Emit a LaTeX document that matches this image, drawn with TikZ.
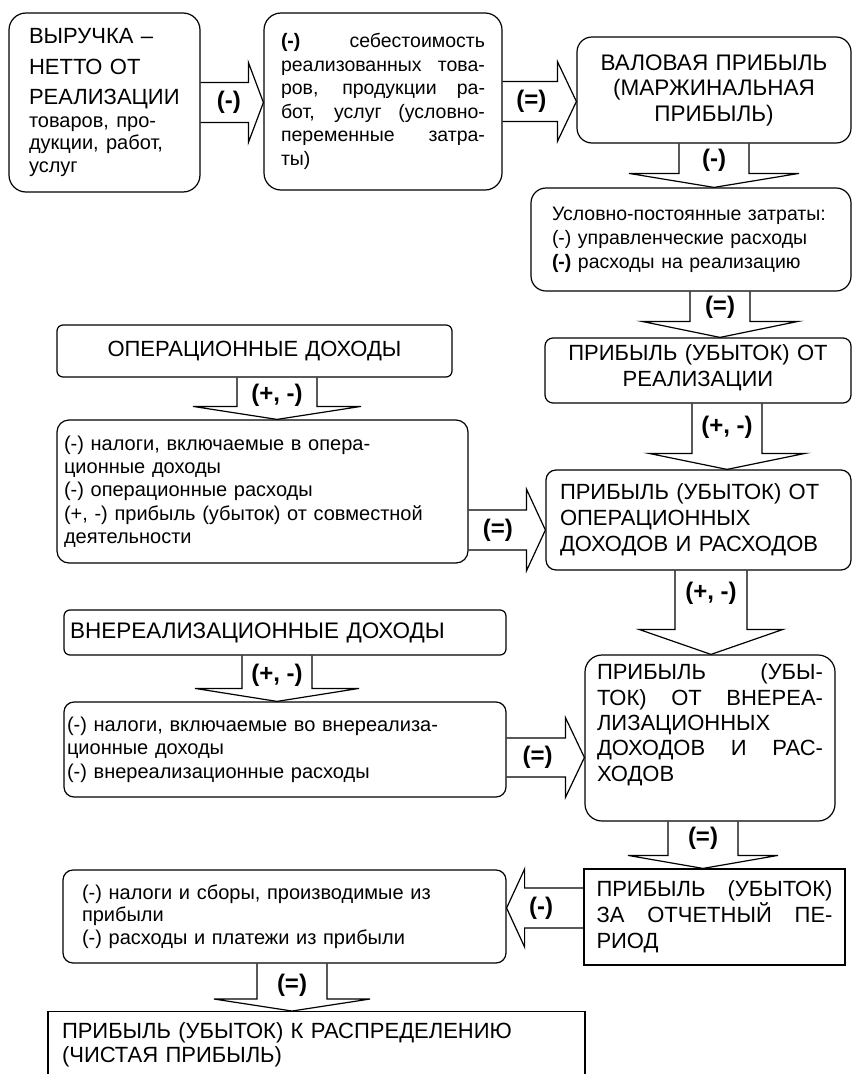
\documentclass[tikz,border=0pt]{standalone}
\usepackage{fontspec}
\setmainfont{Liberation Sans}
\usetikzlibrary{calc}

\newcommand{\fs}[2]{\fontsize{#1}{#2}\selectfont}
\newcommand{\jl}[2]{\makebox[#1][s]{\spaceskip=0pt\xspaceskip=0pt #2}}
\newcommand{\dn}[1]{\rule[-#1]{0pt}{#1}}

\tikzset{
  arrshaft/.store in=\arrshaft, arrhead/.store in=\arrhead, arrlen/.store in=\arrlen,
  arrshaft=20pt, arrhead=40pt, arrlen=16pt,
  blockarrow/.style={draw, line width=1.2pt, to path={
      ($(\tikztotarget)!\arrlen!(\tikztostart)$) coordinate (ah)
      ($(\tikztostart)!\arrshaft!90:(\tikztotarget)$)
      -- ($(ah)!\arrshaft!90:(\tikztotarget)$)
      -- ($(ah)!\arrhead!90:(\tikztotarget)$)
      -- (\tikztotarget)
      -- ($(ah)!\arrhead!-90:(\tikztotarget)$)
      -- ($(ah)!\arrshaft!-90:(\tikztotarget)$)
      -- ($(\tikztostart)!\arrshaft!-90:(\tikztotarget)$)}},
  barrow/.style args={#1/#2/#3}{blockarrow, arrshaft=#1, arrhead=#2, arrlen=#3},
  bx/.style={draw, line width=1.2pt, inner sep=0pt, align=left},
  lbl/.style={font=\fs{24}{26}\bfseries, inner sep=0pt}
}

\begin{document}
\begin{tikzpicture}[x=1pt, y=-1pt]
  \useasboundingbox (0,0) rectangle (852,1074);
  \clip (0,0) rectangle (852,1074);

  % Верхний ряд
  \node[bx, rounded corners=17pt, minimum width=191pt, minimum height=179pt, text width=151pt, font=\fs{22}{30.5}] (vyr) at (104.5,102.5)
    {ВЫРУЧКА –\\НЕТТО ОТ\\РЕАЛИЗАЦИИ\par{\fs{20}{22.5}товаров, про-\\дукции, работ,\\услуг\par}};
  \node[bx, rounded corners=17pt, minimum width=238pt, minimum height=177pt, text width=204pt, font=\fs{19.5}{23.5}] (seb) at (383,101.5)
    {\jl{204pt}{\textbf{(-)} себестоимость}\\\jl{204pt}{реализованных това-}\\\jl{204pt}{ров, продукции ра-}\\\jl{204pt}{бот, услуг (условно-}\\\jl{204pt}{переменные затра-}\\ты)};
  \node[bx, align=center, rounded corners=15pt, minimum width=274pt, minimum height=106pt, text width=268pt, font=\fs{22.5}{25.5}] (val) at (714,90)
    {ВАЛОВАЯ ПРИБЫЛЬ\\(МАРЖИНАЛЬНАЯ\\ПРИБЫЛЬ)};

  % Правая колонка
  \node[bx, rounded corners=15pt, minimum width=320pt, minimum height=103pt, text width=278pt, font=\fs{19.5}{24}] (upz) at (691,239.5)
    {Условно-постоянные затраты:\\(-) управленческие расходы\\\textbf{(-)} расходы на реализацию};
  \node[bx, align=center, rounded corners=8pt, minimum width=306pt, minimum height=65pt, text width=290pt, font=\fs{22}{26}] (preal) at (698,370.5)
    {ПРИБЫЛЬ (УБЫТОК) ОТ\\РЕАЛИЗАЦИИ\dn{9pt}};
  \node[bx, rounded corners=10pt, minimum width=305pt, minimum height=100pt, text width=277pt, font=\fs{22}{26}] (poper) at (698.5,520)
    {ПРИБЫЛЬ (УБЫТОК) ОТ\\ОПЕРАЦИОННЫХ\\ДОХОДОВ И РАСХОДОВ};
  \node[bx, rounded corners=17pt, minimum width=250pt, minimum height=166pt, text width=226pt, font=\fs{22}{25.3}] (pvner) at (710,738)
    {\jl{226pt}{ПРИБЫЛЬ (УБЫ-}\\\jl{226pt}{ТОК) ОТ ВНЕРЕА-}\\ЛИЗАЦИОННЫХ\\\jl{226pt}{ДОХОДОВ И РАС-}\\ХОДОВ\dn{31pt}};
  \node[bx, minimum width=261pt, minimum height=96pt, text width=236pt, font=\fs{22}{26}] (potch) at (714.5,917)
    {\jl{236pt}{ПРИБЫЛЬ (УБЫТОК)}\\\jl{236pt}{ЗА ОТЧЕТНЫЙ ПЕ-}\\РИОД};

  % Левая колонка
  \node[bx, align=center, rounded corners=6pt, minimum width=395pt, minimum height=52pt, text width=380pt, font=\fs{22}{24}] (opd) at (254.5,351)
    {ОПЕРАЦИОННЫЕ ДОХОДЫ};
  \node[bx, rounded corners=12pt, minimum width=411pt, minimum height=143pt, text width=397pt, font=\fs{20}{23.3}] (oprs) at (262.5,491.5)
    {(-) налоги, включаемые в опера-\\ционные доходы\\(-) операционные расходы\\(+, -) прибыль (убыток) от совместной\\деятельности};
  \node[bx, rounded corners=6pt, minimum width=442pt, minimum height=45pt, text width=430pt, font=\fs{22.5}{24}] (vnd) at (285,632.5)
    {ВНЕРЕАЛИЗАЦИОННЫЕ ДОХОДЫ};
  \node[bx, rounded corners=10pt, minimum width=442pt, minimum height=95pt, text width=436pt, font=\fs{20}{23.5}] (vnrs) at (285,749.5)
    {(-) налоги, включаемые во внереализа-\\ционные доходы\\(-) внереализационные расходы};
  \node[bx, rounded corners=10pt, minimum width=443pt, minimum height=93pt, text width=405pt, font=\fs{20}{22.5}] (nal) at (284.5,916.5)
    {(-) налоги и сборы, производимые из\\прибыли\\(-) расходы и платежи из прибыли};
  \node[bx, anchor=north, inner ysep=11pt, minimum width=537pt, text width=509pt, font=\fs{22}{23.5}] (chist) at (316.5,1011)
    {ПРИБЫЛЬ (УБЫТОК) К РАСПРЕДЕЛЕНИЮ\\(ЧИСТАЯ ПРИБЫЛЬ)\dn{20pt}};

  % Точки стрелок
  \coordinate (h1s) at (vyr.east);
  \coordinate (h1e) at (vyr.east -| seb.west);
  \coordinate (h2s) at (seb.east);
  \coordinate (h2e) at (seb.east -| val.west);
  \coordinate (h3e) at ($(poper.west)+(0,10)$);
  \coordinate (h3s) at (oprs.east |- h3e);
  \coordinate (h4s) at ($(vnrs.east)+(0,8)$);
  \coordinate (h4e) at (h4s -| pvner.west);
  \coordinate (h5s) at ($(potch.west)+(0,-9)$);
  \coordinate (h5e) at (h5s -| nal.east);
  \coordinate (v1s) at (val.south);
  \coordinate (v1e) at (val.south |- upz.north);
  \coordinate (v2s) at ($(upz.south)+(29,0)$);
  \coordinate (v2e) at (v2s |- preal.north);
  \coordinate (v3s) at ($(preal.south)+(29,0)$);
  \coordinate (v3e) at (v3s |- poper.north);
  \coordinate (v4s) at ($(poper.south)+(12.5,0)$);
  \coordinate (v4e) at (v4s |- pvner.north);
  \coordinate (v5s) at ($(pvner.south)+(-7,0)$);
  \coordinate (v5e) at (v5s |- potch.north);
  \coordinate (v6s) at ($(opd.south)+(22.5,0)$);
  \coordinate (v6e) at (v6s |- oprs.north);
  \coordinate (v7s) at ($(vnd.south)+(-8,0)$);
  \coordinate (v7e) at (v7s |- vnrs.north);
  \coordinate (v8s) at ($(nal.south)+(7.5,0)$);
  \coordinate (v8e) at (v8s |- chist.north);

  % Стрелки
  \draw[barrow=20pt/40pt/15pt] (h1s) to (h1e);
  \draw[barrow=20pt/40pt/19pt] (h2s) to (h2e);
  \draw[barrow=20pt/41pt/19pt] (h3s) to (h3e);
  \draw[barrow=19.5pt/40pt/19pt] (h4s) to (h4e);
  \draw[barrow=20pt/39pt/18pt] (h5s) to (h5e);
  \draw[barrow=35pt/85pt/14pt] (v1s) to (v1e);
  \draw[barrow=30pt/78pt/16pt] (v2s) to (v2e);
  \draw[barrow=35pt/78pt/16pt] (v3s) to (v3e);
  \draw[barrow=36pt/72pt/25pt] (v4s) to (v4e);
  \draw[barrow=35pt/75pt/13pt] (v5s) to (v5e);
  \draw[barrow=40pt/84pt/13pt] (v6s) to (v6e);
  \draw[barrow=35pt/82pt/13pt] (v7s) to (v7e);
  \draw[barrow=35pt/78pt/12pt] (v8s) to (v8e);

  % Знаки
  \node[lbl] (m1) at ($(h1s)!0.45!(h1e)$) {(-)};
  \node[lbl] (m2) at ($(h2s)!0.39!(h2e)$) {(=)};
  \node[lbl] (m3) at ($(h3s)!0.38!(h3e)$) {(=)};
  \node[lbl] (m4) at ($(h4s)!0.40!(h4e)$) {(=)};
  \node[lbl] (m5) at ($(h5s)!0.55!(h5e)$) {(-)};
  \node[lbl] (n1) at ($(v1s)!0.38!(v1e)$) {(-)};
  \node[lbl] (n2) at ($(v2s)!0.34!(v2e)$) {(=)};
  \node[lbl] (n3) at ($(v3s)!0.36!(v3e)$) {(+, -)};
  \node[lbl] (n4) at ($(v4s)!0.27!(v4e)$) {(+, -)};
  \node[lbl] (n5) at ($(v5s)!0.35!(v5e)$) {(=)};
  \node[lbl] (n6) at ($(v6s)!0.42!(v6e)$) {(+, -)};
  \node[lbl] (n7) at ($(v7s)!0.42!(v7e)$) {(+, -)};
  \node[lbl] (n8) at ($(v8s)!0.45!(v8e)$) {(=)};
\end{tikzpicture}
\end{document}
